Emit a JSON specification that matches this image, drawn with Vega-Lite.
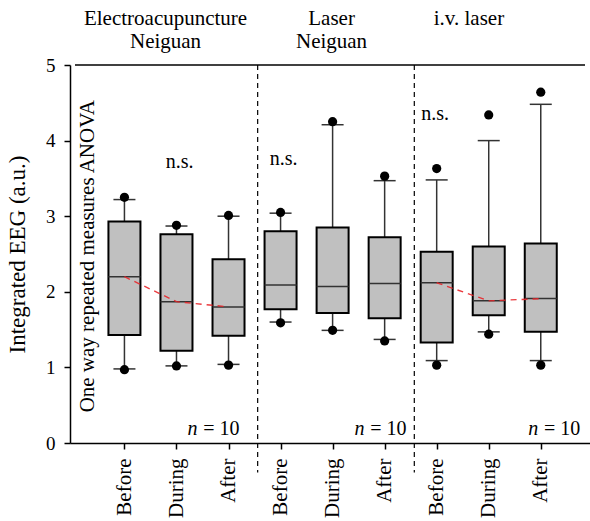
{
  "$schema": "https://vega.github.io/schema/vega-lite/v6.json",
  "width": 520,
  "height": 378,
  "autosize": {"type": "none"},
  "padding": {"left": 70, "top": 65, "right": 0, "bottom": 78},
  "background": "white",
  "config": {
    "view": {"stroke": null},
    "font": "Liberation Serif",
    "text": {"font": "Liberation Serif", "color": "black"},
    "axis": {
      "labelFont": "Liberation Serif",
      "titleFont": "Liberation Serif",
      "grid": false,
      "domainColor": "black",
      "tickColor": "black",
      "labelColor": "black",
      "titleColor": "black",
      "domainWidth": 1.5,
      "tickWidth": 1.5
    }
  },
  "datasets": {
    "boxes": [
      {"pos": 1, "grp": "A", "whi": 3.22, "dothi": 3.25, "q3": 2.93, "med": 2.20, "q1": 1.43, "wlo": 0.98, "dotlo": 0.97},
      {"pos": 2, "grp": "A", "whi": 2.87, "dothi": 2.88, "q3": 2.76, "med": 1.87, "q1": 1.22, "wlo": 1.02, "dotlo": 1.02},
      {"pos": 3, "grp": "A", "whi": 3.00, "dothi": 3.01, "q3": 2.43, "med": 1.80, "q1": 1.42, "wlo": 1.04, "dotlo": 1.03},
      {"pos": 4, "grp": "B", "whi": 3.04, "dothi": 3.05, "q3": 2.80, "med": 2.09, "q1": 1.77, "wlo": 1.60, "dotlo": 1.59},
      {"pos": 5, "grp": "B", "whi": 4.21, "dothi": 4.25, "q3": 2.85, "med": 2.07, "q1": 1.72, "wlo": 1.49, "dotlo": 1.49},
      {"pos": 6, "grp": "B", "whi": 3.47, "dothi": 3.53, "q3": 2.72, "med": 2.11, "q1": 1.65, "wlo": 1.37, "dotlo": 1.35},
      {"pos": 7, "grp": "C", "whi": 3.48, "dothi": 3.63, "q3": 2.53, "med": 2.12, "q1": 1.33, "wlo": 1.09, "dotlo": 1.03},
      {"pos": 8, "grp": "C", "whi": 4.00, "dothi": 4.34, "q3": 2.60, "med": 1.88, "q1": 1.69, "wlo": 1.47, "dotlo": 1.44},
      {"pos": 9, "grp": "C", "whi": 4.48, "dothi": 4.64, "q3": 2.64, "med": 1.91, "q1": 1.47, "wlo": 1.09, "dotlo": 1.03}
    ],
    "seps": [{"sx": 3.56}, {"sx": 6.57}],
    "titles": [
      {"tx": 1.79, "ty": 5.53, "t": "Electroacupuncture"},
      {"tx": 1.79, "ty": 5.23, "t": "Neiguan"},
      {"tx": 4.98, "ty": 5.53, "t": "Laser"},
      {"tx": 4.98, "ty": 5.23, "t": "Neiguan"},
      {"tx": 7.62, "ty": 5.53, "t": "i.v. laser"}
    ],
    "ns": [
      {"tx": 2.06, "ty": 3.64, "t": "n.s."},
      {"tx": 4.06, "ty": 3.68, "t": "n.s."},
      {"tx": 6.97, "ty": 4.27, "t": "n.s."}
    ],
    "nn": [
      {"tx": 3.21, "ty": 0.11},
      {"tx": 6.42, "ty": 0.11},
      {"tx": 9.76, "ty": 0.11}
    ],
    "anova": [{"tx": 0.42, "ty": 2.47, "t": "One way repeated measures ANOVA"}]
  },
  "layer": [
    {
      "data": {"name": "boxes"},
      "mark": {"type": "rule", "color": "#333333", "strokeWidth": 1.5},
      "encoding": {
        "x": {
          "field": "pos", "type": "quantitative",
          "scale": {"domain": [0.05, 9.85], "nice": false, "zero": false},
          "axis": {
            "title": null,
            "values": [1, 2, 3, 4, 5, 6, 7, 8, 9],
            "labelExpr": "['Before','During','After'][(datum.value-1)%3]",
            "labelAngle": -90,
            "labelFontSize": 21,
            "labelPadding": 9,
            "tickSize": 6,
            "labelOverlap": false,
            "labelFlush": false
          }
        },
        "y": {
          "field": "wlo", "type": "quantitative",
          "scale": {"domain": [0, 5], "nice": false, "zero": false},
          "axis": {
            "title": "Integrated EEG (a.u.)",
            "values": [0, 1, 2, 3, 4, 5],
            "format": "d",
            "titleFontSize": 23,
            "titleFontWeight": "normal",
            "titlePadding": 16,
            "labelFontSize": 19,
            "labelPadding": 9,
            "tickSize": 6,
            "labelFlush": false,
            "labelOverlap": false
          }
        },
        "y2": {"field": "whi"}
      }
    },
    {
      "data": {"name": "boxes"},
      "mark": {"type": "bar", "width": 32, "fill": "#c0c0c0", "stroke": "black", "strokeWidth": 2},
      "encoding": {
        "x": {"field": "pos", "type": "quantitative"},
        "y": {"field": "q1", "type": "quantitative"},
        "y2": {"field": "q3"}
      }
    },
    {
      "data": {"name": "boxes"},
      "mark": {"type": "rule", "color": "#333333", "strokeWidth": 1.5, "xOffset": -16, "x2Offset": 16},
      "encoding": {
        "x": {"field": "pos", "type": "quantitative"},
        "x2": {"field": "pos"},
        "y": {"field": "med", "type": "quantitative"}
      }
    },
    {
      "data": {"name": "boxes"},
      "mark": {"type": "rule", "color": "#333333", "strokeWidth": 1.5, "xOffset": -11, "x2Offset": 11},
      "encoding": {
        "x": {"field": "pos", "type": "quantitative"},
        "x2": {"field": "pos"},
        "y": {"field": "whi", "type": "quantitative"}
      }
    },
    {
      "data": {"name": "boxes"},
      "mark": {"type": "rule", "color": "#333333", "strokeWidth": 1.5, "xOffset": -11, "x2Offset": 11},
      "encoding": {
        "x": {"field": "pos", "type": "quantitative"},
        "x2": {"field": "pos"},
        "y": {"field": "wlo", "type": "quantitative"}
      }
    },
    {
      "data": {"name": "boxes"},
      "transform": [{"filter": "datum.grp != 'B'"}],
      "mark": {"type": "line", "color": "#e8262a", "strokeWidth": 1.4, "strokeDash": [6, 5], "opacity": 0.9},
      "encoding": {
        "x": {"field": "pos", "type": "quantitative"},
        "y": {"field": "med", "type": "quantitative"},
        "detail": {"field": "grp"}
      }
    },
    {
      "data": {"name": "boxes"},
      "mark": {"type": "point", "filled": true, "color": "black", "opacity": 1, "size": 85},
      "encoding": {
        "x": {"field": "pos", "type": "quantitative"},
        "y": {"field": "dothi", "type": "quantitative"}
      }
    },
    {
      "data": {"name": "boxes"},
      "mark": {"type": "point", "filled": true, "color": "black", "opacity": 1, "size": 85},
      "encoding": {
        "x": {"field": "pos", "type": "quantitative"},
        "y": {"field": "dotlo", "type": "quantitative"}
      }
    },
    {
      "data": {"name": "seps"},
      "mark": {"type": "rule", "color": "black", "strokeWidth": 1.2, "strokeDash": [5, 4]},
      "encoding": {
        "x": {"field": "sx", "type": "quantitative"},
        "y": {"datum": 5},
        "y2": {"datum": -0.39}
      }
    },
    {
      "data": {"values": [{}]},
      "mark": {"type": "rule", "color": "black", "strokeWidth": 1.5},
      "encoding": {
        "x": {"datum": 0.05},
        "x2": {"datum": 9.85},
        "y": {"datum": 5}
      }
    },
    {
      "data": {"name": "titles"},
      "mark": {"type": "text", "fontSize": 21, "align": "center", "baseline": "alphabetic"},
      "encoding": {
        "x": {"field": "tx", "type": "quantitative"},
        "y": {"field": "ty", "type": "quantitative"},
        "text": {"field": "t"}
      }
    },
    {
      "data": {"name": "ns"},
      "mark": {"type": "text", "fontSize": 20, "align": "center", "baseline": "alphabetic"},
      "encoding": {
        "x": {"field": "tx", "type": "quantitative"},
        "y": {"field": "ty", "type": "quantitative"},
        "text": {"field": "t"}
      }
    },
    {
      "data": {"name": "nn"},
      "mark": {"type": "text", "fontSize": 20, "align": "right", "baseline": "alphabetic", "text": "= 10"},
      "encoding": {
        "x": {"field": "tx", "type": "quantitative"},
        "y": {"field": "ty", "type": "quantitative"}
      }
    },
    {
      "data": {"name": "nn"},
      "mark": {"type": "text", "fontSize": 20, "fontStyle": "italic", "align": "right", "baseline": "alphabetic", "text": "n", "dx": -42},
      "encoding": {
        "x": {"field": "tx", "type": "quantitative"},
        "y": {"field": "ty", "type": "quantitative"}
      }
    },
    {
      "data": {"name": "anova"},
      "mark": {"type": "text", "fontSize": 21, "align": "center", "baseline": "alphabetic", "angle": 270},
      "encoding": {
        "x": {"field": "tx", "type": "quantitative"},
        "y": {"field": "ty", "type": "quantitative"},
        "text": {"field": "t"}
      }
    }
  ]
}
